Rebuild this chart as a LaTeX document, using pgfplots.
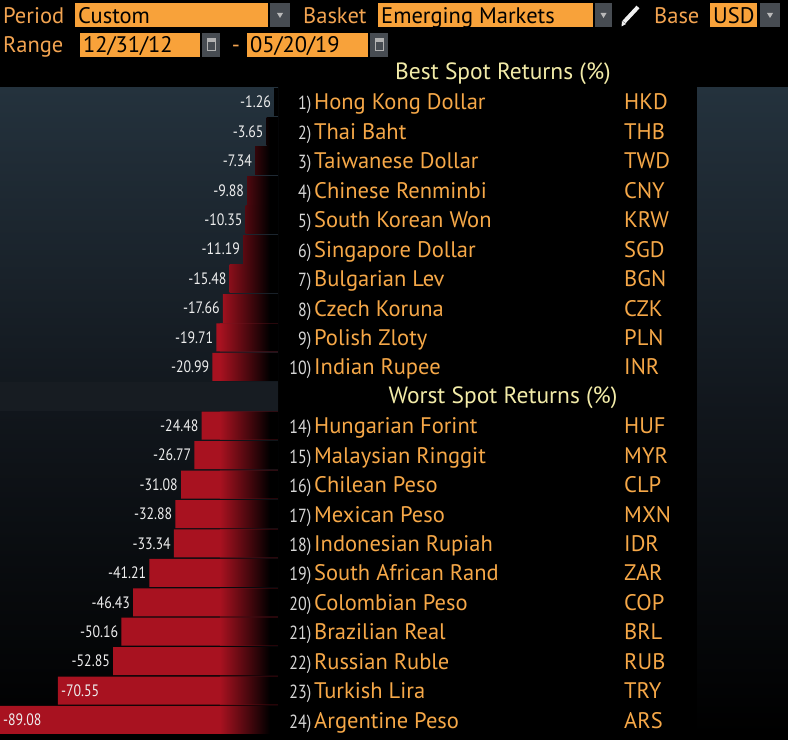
\documentclass[border=0pt]{standalone}
\usepackage{pgfplots}
\pgfplotsset{compat=1.18}
\usepackage{fontspec}
\setmainfont{PT Sans}
\newfontfamily\lblf[FakeStretch=0.84]{PT Sans}
\definecolor{bred}{HTML}{A81220}
\definecolor{boxc}{HTML}{F8A23A}
\definecolor{labc}{HTML}{F3A451}
\definecolor{namec}{HTML}{F6A848}
\definecolor{numc}{HTML}{D6D6D6}
\definecolor{valc}{HTML}{EEEEEE}
\definecolor{hdrc}{HTML}{F2EBA8}
\definecolor{ddc}{HTML}{474C52}
\definecolor{pan1}{HTML}{24323D}
\definecolor{pan2}{HTML}{11161C}
\definecolor{gaprow}{HTML}{171C22}
\pgfdeclarehorizontalshading{fadeL}{100bp}{color(0bp)=(bred); color(25bp)=(bred); color(68bp)=(black); color(100bp)=(black)}
\pgfdeclarehorizontalshading{fadeA}{100bp}{color(0bp)=(bred!7!black); color(25bp)=(bred!7!black); color(39.4bp)=(black); color(100bp)=(black)}
\pgfdeclarehorizontalshading{fadeB}{100bp}{color(0bp)=(bred!30!black); color(25bp)=(bred!30!black); color(57.3bp)=(black); color(100bp)=(black)}
\pgfdeclarehorizontalshading{fadeC}{100bp}{color(0bp)=(bred!46!black); color(25bp)=(bred!46!black); color(61.8bp)=(black); color(100bp)=(black)}
\pgfdeclarehorizontalshading{fadeD}{100bp}{color(0bp)=(bred!48!black); color(25bp)=(bred!48!black); color(62.4bp)=(black); color(100bp)=(black)}
\pgfdeclarehorizontalshading{fadeE}{100bp}{color(0bp)=(bred!54!black); color(25bp)=(bred!54!black); color(63.4bp)=(black); color(100bp)=(black)}
\pgfdeclarehorizontalshading{fadeF}{100bp}{color(0bp)=(bred!81!black); color(25bp)=(bred!81!black); color(66.6bp)=(black); color(100bp)=(black)}
\pgfdeclarehorizontalshading{fadeG}{100bp}{color(0bp)=(bred!94!black); color(25bp)=(bred!94!black); color(67.6bp)=(black); color(100bp)=(black)}
\pgfplotsset{
  mybar/.style={xbar, bar shift=0pt, bar width=28pt, draw=none},
  vlab/.style={nodes near coords, point meta=explicit symbolic,
    every node near coord/.append style={anchor=east, font=\lblf\fontsize{16.5}{16.5}\selectfont, text=valc, inner sep=0pt, xshift=-3pt}},
  vlabin/.style={nodes near coords, point meta=explicit symbolic,
    every node near coord/.append style={anchor=west, font=\lblf\fontsize{16.5}{16.5}\selectfont, text=valc, inner sep=0pt, xshift=3pt}},
}
\begin{document}
\begin{tikzpicture}
% background
\begin{scope}[x=1pt,y=-1pt,shift={(0pt,740pt)}]
\fill[black] (0,0) rectangle (788,740);
\shade[top color=pan1, bottom color=black, middle color=pan2] (0,87.3) rectangle (278,734.7);
\shade[top color=pan1, bottom color=black, middle color=pan2] (697,87.3) rectangle (788,734.7);
\fill[gaprow] (0,382) rectangle (278,411);
\end{scope}
\begin{axis}[at={(0pt,5.3pt)}, anchor=south west, scale only axis,
  width=278pt, height=647.4pt, xmin=-89.08, xmax=0, ymin=-0.5, ymax=21.5,
  y dir=reverse, hide axis, clip=false]
% long bars, solid red
\addplot[mybar, fill=bred, vlab] coordinates {
 (-19.71,8) [-19.71] (-20.99,9) [-20.99]
 (-24.48,11) [-24.48] (-26.77,12) [-26.77] (-31.08,13) [-31.08]
 (-32.88,14) [-32.88] (-33.34,15) [-33.34] (-41.21,16) [-41.21]
 (-46.43,17) [-46.43] (-50.16,18) [-50.16] (-52.85,19) [-52.85]};
\addplot[mybar, fill=bred, vlabin] coordinates {(-70.55,20) [-70.55] (-89.08,21) [-89.08]};
% fade overlay on long bars
\addplot[mybar, shade, shading=fadeL] coordinates {
 (-18.6,8) (-18.6,9) (-18.6,11) (-18.6,12) (-18.6,13) (-18.6,14) (-18.6,15)
 (-18.6,16) (-18.6,17) (-18.6,18) (-18.6,19) (-18.6,20) (-18.6,21)};
% short bars
\addplot[mybar, fill=black, vlab] coordinates {(-1.26,0) [-1.26]};
\addplot[mybar, shade, shading=fadeA, vlab] coordinates {(-3.65,1) [-3.65]};
\addplot[mybar, shade, shading=fadeB, vlab] coordinates {(-7.34,2) [-7.34]};
\addplot[mybar, shade, shading=fadeC, vlab] coordinates {(-9.88,3) [-9.88]};
\addplot[mybar, shade, shading=fadeD, vlab] coordinates {(-10.35,4) [-10.35]};
\addplot[mybar, shade, shading=fadeE, vlab] coordinates {(-11.19,5) [-11.19]};
\addplot[mybar, shade, shading=fadeF, vlab] coordinates {(-15.48,6) [-15.48]};
\addplot[mybar, shade, shading=fadeG, vlab] coordinates {(-17.66,7) [-17.66]};
\end{axis}
% texts
\begin{scope}[x=1pt,y=-1pt,shift={(0pt,740pt)}]
\foreach \s/\n/\nm/\cd in {0/1)/Hong Kong Dollar/HKD, 1/2)/Thai Baht/THB, 2/3)/Taiwanese Dollar/TWD,
 3/4)/Chinese Renminbi/CNY, 4/5)/South Korean Won/KRW, 5/6)/Singapore Dollar/SGD,
 6/7)/Bulgarian Lev/BGN, 7/8)/Czech Koruna/CZK, 8/9)/Polish Zloty/PLN, 9/10)/Indian Rupee/INR,
 11/14)/Hungarian Forint/HUF, 12/15)/Malaysian Ringgit/MYR, 13/16)/Chilean Peso/CLP,
 14/17)/Mexican Peso/MXN, 15/18)/Indonesian Rupiah/IDR, 16/19)/South African Rand/ZAR,
 17/20)/Colombian Peso/COP, 18/21)/Brazilian Real/BRL, 19/22)/Russian Ruble/RUB,
 20/23)/Turkish Lira/TRY, 21/24)/Argentine Peso/ARS}{
  \node[anchor=base east, inner sep=0pt, text=numc, font=\lblf\fontsize{19}{19}\selectfont] at (311.5,{102+\s*29.43+8}) {\n};
  \node[anchor=base west, inner sep=0pt, text=namec, font=\fontsize{22.5}{22.5}\selectfont] at (314,{102+\s*29.43+8}) {\nm};
  \node[anchor=base west, inner sep=0pt, text=namec, font=\fontsize{22.5}{22.5}\selectfont] at (624,{102+\s*29.43+8}) {\cd};
}
\node[anchor=base, inner sep=0pt, text=hdrc, font=\fontsize{23.5}{23.5}\selectfont] at (503,80) {Best Spot Returns (\%)};
\node[anchor=base, inner sep=0pt, text=hdrc, font=\fontsize{23.5}{23.5}\selectfont] at (503,404) {Worst Spot Returns (\%)};
% header controls
\fill[boxc] (75,3) rectangle (268,27);
\fill[ddc] (270,3) rectangle (290,27);
\fill[boxc] (378,3) rectangle (593,27);
\fill[ddc] (595,3) rectangle (612,27);
\fill[boxc] (710,3) rectangle (757,27);
\fill[ddc] (760,3) rectangle (780,27);
\foreach \a in {280,603.5,770}{\fill[gray!55!white] (\a-3,13) -- (\a+3,13) -- (\a,18) -- cycle;}
\draw[line width=4pt, white!88!gray] (624,22) -- (638,7);
\fill[white!88!gray] (621.5,26.5) -- (622,21) -- (626,24) -- cycle;
\fill[boxc] (80,33) rectangle (200,57);
\fill[ddc] (202,33) rectangle (220,57);
\fill[boxc] (247,33) rectangle (368,57);
\fill[ddc] (370,33) rectangle (388,57);
\foreach \a in {211,379}{\draw[gray!60!white, line width=1pt] (\a-4,39) rectangle (\a+4,51); \fill[gray!60!white] (\a-4,39) rectangle (\a+4,42);}
\node[anchor=base west, inner sep=0pt, text=labc, font=\fontsize{22.5}{22.5}\selectfont] at (3,24) {Period};
\node[anchor=base west, inner sep=0pt, text=black, font=\fontsize{22.5}{22.5}\selectfont] at (78,24) {Custom};
\node[anchor=base west, inner sep=0pt, text=labc, font=\fontsize{22.5}{22.5}\selectfont] at (303,24) {Basket};
\node[anchor=base west, inner sep=0pt, text=black, font=\fontsize{22.5}{22.5}\selectfont] at (381,24) {Emerging Markets};
\node[anchor=base west, inner sep=0pt, text=labc, font=\fontsize{22.5}{22.5}\selectfont] at (654,24) {Base};
\node[anchor=base west, inner sep=0pt, text=black, font=\fontsize{22.5}{22.5}\selectfont] at (713,24) {USD};
\node[anchor=base west, inner sep=0pt, text=labc, font=\fontsize{22.5}{22.5}\selectfont] at (3,53) {Range};
\node[anchor=base west, inner sep=0pt, text=black, font=\fontsize{22.5}{22.5}\selectfont] at (83,53) {12/31/12};
\node[anchor=base, inner sep=0pt, text=labc, font=\fontsize{22.5}{22.5}\selectfont] at (236,53) {-};
\node[anchor=base west, inner sep=0pt, text=black, font=\fontsize{22.5}{22.5}\selectfont] at (250,53) {05/20/19};
\end{scope}
\end{tikzpicture}
\end{document}
